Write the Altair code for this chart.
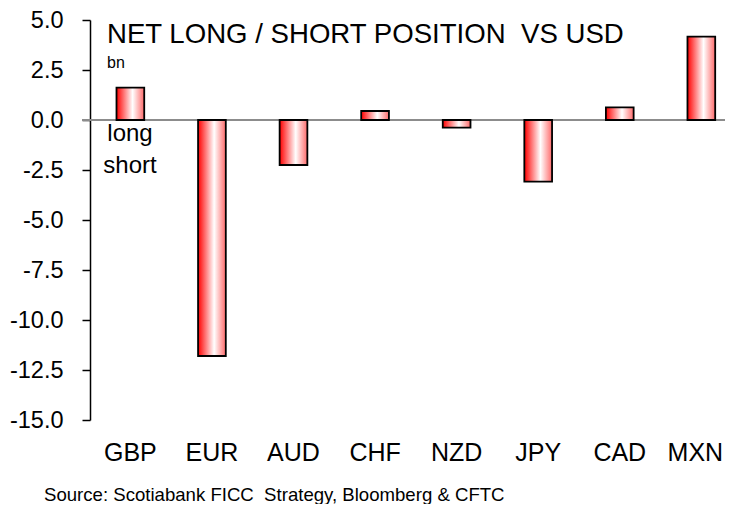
import altair as alt
import pandas as pd

currencies = ["GBP", "EUR", "AUD", "CHF", "NZD", "JPY", "CAD", "MXN"]
positions = [1.62, -11.8, -2.25, 0.45, -0.38, -3.08, 0.63, 4.17]
y_ticks = [-15.0, -12.5, -10.0, -7.5, -5.0, -2.5, 0.0, 2.5, 5.0]
title_text = "NET LONG / SHORT POSITION\u00a0 VS USD"
unit_text = "bn"
long_text = "long"
short_text = "short"
source_text = "Source: Scotiabank FICC\u00a0 Strategy, Bloomberg & CFTC"

FONT = "Liberation Sans"
W, H = 635, 400

df = pd.DataFrame({"cur": currencies, "val": positions})

xscale = alt.Scale(paddingInner=0.66, paddingOuter=0.2225, align=0.73)
xs = alt.X("cur:N", sort=currencies, title=None, scale=xscale, axis=None)
ys = alt.Y("val:Q", title=None,
           scale=alt.Scale(domain=[-15, 5], nice=False, zero=False),
           axis=alt.Axis(values=y_ticks, grid=False, tickSize=8, tickColor="black",
                         tickWidth=1.5, domainColor="black", domainWidth=1.5,
                         labelFontSize=23.5, labelFont=FONT, labelColor="black",
                         labelPadding=19,
                         labelExpr="replace(format(datum.value, '.1f'), '\u2212', '-')"))

bars = alt.Chart(df).mark_bar(
    color=alt.Gradient(gradient="linear", x1=0, x2=1, y1=0, y2=0,
                       stops=[alt.GradientStop(offset=0, color="#ff0000"),
                              alt.GradientStop(offset=0.58, color="#ffffff"),
                              alt.GradientStop(offset=1, color="#ff6a6a")]),
    stroke="black", strokeWidth=1.8
).encode(x=xs, y=ys)

# category labels under the plot (drawn as text so the last one can stay inside the page)
cat_labels = alt.Chart(df).mark_text(
    baseline="top", align="center", font=FONT, fontSize=25, color="black"
).encode(x=xs, y=alt.value(H + 21), text="cur:N").transform_filter("datum.cur != 'MXN'")
last_label = alt.Chart(df).mark_text(
    baseline="top", align="center", font=FONT, fontSize=25, color="black", dx=-6
).encode(x=xs, y=alt.value(H + 21), text="cur:N").transform_filter("datum.cur == 'MXN'")

zero = alt.Chart(pd.DataFrame({"z": [0.0]})).mark_rule(color="#8c8c8c", strokeWidth=2).encode(
    y=alt.Y("z:Q", scale=alt.Scale(domain=[-15, 5], nice=False, zero=False)),
    x=alt.value(-8), x2=alt.value(W))

def label(txt, x, y, size, align="left"):
    return alt.Chart(pd.DataFrame({"t": [txt]})).mark_text(
        align=align, baseline="alphabetic", font=FONT, fontSize=size, color="black"
    ).encode(x=alt.value(x), y=alt.value(y), text="t:N")

chart = alt.layer(
    zero, bars, cat_labels, last_label,
    label(title_text, 17, 23, 27.6),
    label(unit_text, 17, 48, 16),
    label(long_text, 40, 121, 24, "center"),
    label(short_text, 40, 153, 24, "center"),
    label(source_text, -46, 481, 18.6),
).properties(
    width=W, height=H,
    autosize=alt.AutoSizeParams(type="none"),
    padding={"left": 82, "top": 12, "right": 0, "bottom": 84},
).configure_view(stroke=None)

chart.save("out.html", embed_options={"renderer": "svg", "actions": False})
